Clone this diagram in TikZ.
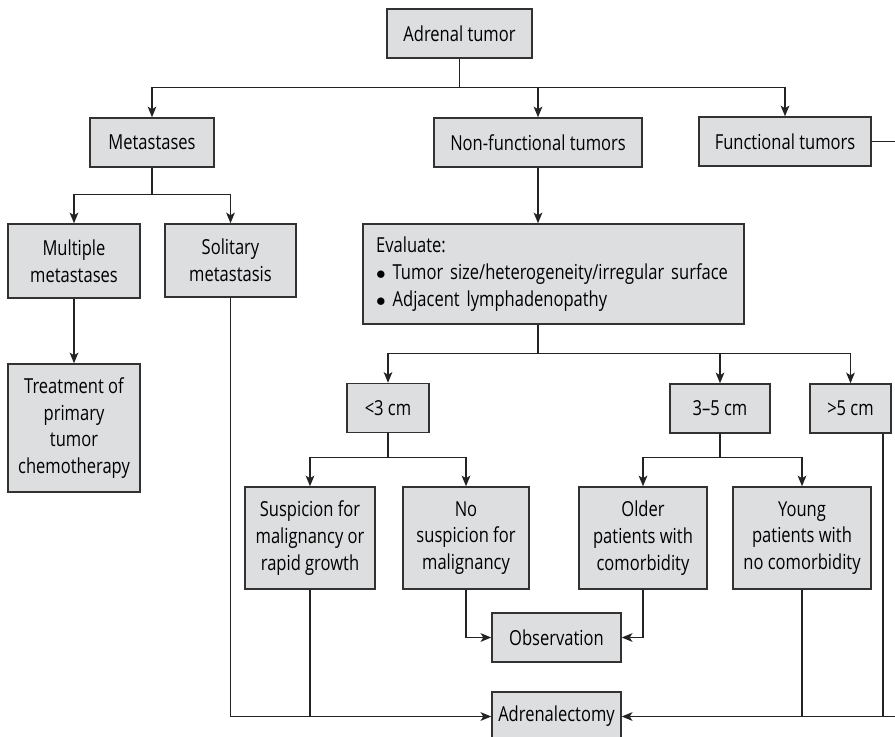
\documentclass[tikz,border=0pt]{standalone}
\usepackage{fontspec}
\setmainfont[FakeStretch=0.8]{Open Sans}
\usepackage{xcolor}
\definecolor{boxfill}{RGB}{221,222,224}
\definecolor{boxline}{RGB}{50,50,50}
\definecolor{linkgray}{RGB}{35,35,35}
\usetikzlibrary{arrows.meta, positioning, calc}

\tikzset{
  box/.style={draw=boxline, fill=boxfill, line width=1.1pt, align=center,
    inner sep=2pt, minimum height=36.75pt,
    font=\fontsize{15.5}{20}\selectfont},
  link/.style={draw=linkgray, line width=1pt},
  arr/.style={link, -{Stealth[length=8pt, width=6.5pt, inset=2pt]}}
}

\begin{document}
\begin{tikzpicture}[x=0.75pt, y=-0.75pt]
      % Frame
      \useasboundingbox (0,0) rectangle (895,736);
      \clip (0,0) rectangle (895,736);

      % Top level
      \node[box, minimum width=108.75pt] (adrenal) at (459.5,33.5) {Adrenal tumor};
      \node[box, minimum width=93pt]  (meta)    at (152,142.5) {Metastases};
      \node[box, minimum width=156pt] (nonfunc) at (538,142.5) {Non-functional tumors};
      \node[box, minimum width=129pt] (func)    at (785,141.5) {Functional tumors};

      % Metastases branch
      \node[box, minimum width=99pt, minimum height=55.5pt] (multi) at (74,261) {Multiple\\metastases};
      \node[box, minimum width=98.25pt, minimum height=54.75pt] (solit) at (230.5,260.5) {Solitary\\metastasis};
      \node[box, minimum width=99pt, minimum height=96pt] (treat) at (74,428) {Treatment of\\primary\\tumor\\chemotherapy};

      % Evaluation
      \node[box, align=left, text width=266pt, inner xsep=9.8pt, minimum height=75pt] (eval) at (553.5,274)
        {Evaluate:\\$\bullet$\ Tumor size/heterogeneity/irregular surface\\$\bullet$\ Adjacent lymphadenopathy};

      % Size classes
      \node[box, minimum width=61.5pt]  (lt3) at (388,408)   {<3 cm};
      \node[box, minimum width=75pt]    (mid) at (720,408.5) {3--5 cm};
      \node[box, minimum width=60.75pt] (gt5) at (850.5,408.5) {>5 cm};

      % Patient groups
      \node[box, minimum width=97.5pt, minimum height=76.5pt]  (susp)   at (310,538) {Suspicion for\\malignancy or\\rapid growth};
      \node[box, minimum width=94.5pt, minimum height=76.5pt]  (nosusp) at (466,538) {No\\suspicion for\\malignancy};
      \node[box, minimum width=96pt, minimum height=76.5pt]    (older)  at (643,538) {Older\\patients with\\comorbidity};
      \node[box, minimum width=103.5pt, minimum height=76.5pt] (young)  at (802,538) {Young\\patients with\\no comorbidity};

      % Outcomes
      \node[box, minimum width=96.75pt] (obs) at (556.5,637.5) {Observation};
      \node[box, minimum width=96.75pt] (adx) at (556.5,716.5) {Adrenalectomy};

      % Edge points
      \coordinate (fedge) at (895,141.5);
      \coordinate (redge) at (895,716.5);
      \coordinate (gt5drop) at ($(gt5.south)+(32.5,0)$);

      % Connectors
      \draw[arr] (adrenal.south) -- ++(0,29) -| (meta.north);
      \draw[arr] (adrenal.south) -- ++(0,29) -| (nonfunc.north);
      \draw[arr] (adrenal.south) -- ++(0,29) -| (func.north);
      \draw[link] (func.east) -- (fedge);

      \draw[arr] (meta.south) -- ++(0,27) -| (multi.north);
      \draw[arr] (meta.south) -- ++(0,27) -| (solit.north);
      \draw[arr] (multi.south) -- (treat.north);
      \draw[arr] (solit.south) |- (adx.west);

      \draw[arr] (nonfunc.south) -- (nonfunc.south |- eval.north);
      \draw[arr] (nonfunc.south |- eval.south) -- ++(0,29) -| (lt3.north);
      \draw[arr] (nonfunc.south |- eval.south) -- ++(0,29) -| (mid.north);
      \draw[arr] (nonfunc.south |- eval.south) -- ++(0,29) -| (gt5.north);

      \draw[arr] (lt3.south) -- ++(0,24) -| (susp.north);
      \draw[arr] (lt3.south) -- ++(0,24) -| (nosusp.north);
      \draw[arr] (mid.south) -- ++(0,24) -| (older.north);
      \draw[arr] (mid.south) -- ++(0,24) -| (young.north);

      \draw[arr] (nosusp.south) |- (obs.west);
      \draw[arr] (older.south) |- (obs.east);
      \draw[link] (susp.south) -- (susp.south |- adx.west);
      \draw[link] (young.south) -- (young.south |- adx.east);
      \draw[link] (gt5drop) -- (gt5drop |- redge);
      \draw[arr] (redge) -- (adx.east);
    \end{tikzpicture}
\end{document}
